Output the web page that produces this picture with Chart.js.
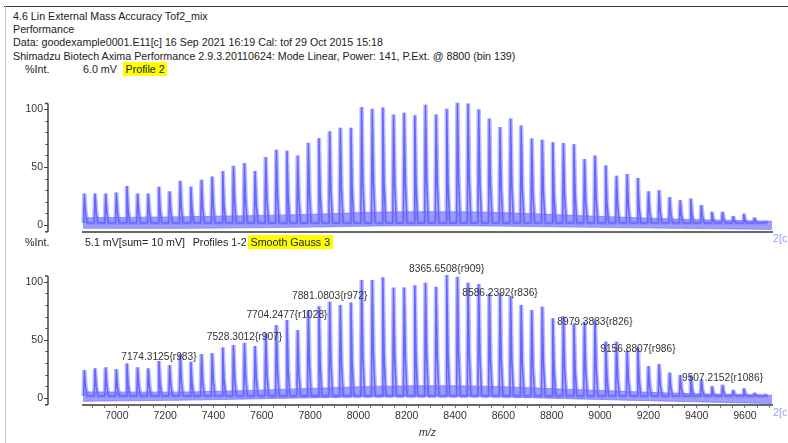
<!DOCTYPE html>
<html>
<head>
<meta charset="utf-8">
<script src="https://cdn.jsdelivr.net/npm/chart.js@4.4.1/dist/chart.umd.min.js"></script>
<style>
body { margin: 0; background: #fff; }
#page { position: relative; width: 788px; height: 443px; overflow: hidden; font-family: "Liberation Sans", Arial, sans-serif; font-size: 10.7px; color: #222; }
.t { position: absolute; white-space: pre; line-height: 13px; }
.hl { background: #ffff00; padding: 1px 2.5px; }
.ch { position: absolute; left: 0; }
.side { color: #9a9aff; }
</style>
</head>
<body>
<div id="page">
  <div style="position:absolute;left:4px;top:6px;width:784px;height:1px;background:#333"></div>
  <div style="position:absolute;left:5px;top:6px;width:1px;height:437px;background:#c4c4c4"></div>

  <div class="t" style="left:13px;top:9.5px">4.6 Lin External Mass Accuracy Tof2_mix</div>
  <div class="t" style="left:13px;top:22.8px">Performance</div>
  <div class="t" style="left:13px;top:36.2px">Data: goodexample0001.E11[c] 16 Sep 2021 16:19 Cal: tof 29 Oct 2015 15:18</div>
  <div class="t" style="left:13px;top:49.5px">Shimadzu Biotech Axima Performance 2.9.3.20110624: Mode Linear, Power: 141, P.Ext. @ 8800 (bin 139)</div>
  <div class="t" style="left:25px;top:62.8px">%Int.</div>
  <div class="t" style="left:83px;top:62.8px">6.0 mV</div>
  <div class="t" style="left:123px;top:62.8px"><span class="hl">Profile 2</span></div>

  <canvas id="top" class="ch" style="top:95px" width="788" height="145"></canvas>

  <div class="t side" style="left:773px;top:231.5px">2[c</div>
  <div class="t" style="left:25px;top:235.8px">%Int.</div>
  <div class="t" style="left:85px;top:235.8px">5.1 mV[sum= 10 mV]</div>
  <div class="t" style="left:192.7px;top:235.8px">Profiles 1-2</div>
  <div class="t" style="left:248px;top:235.8px"><span class="hl">Smooth Gauss 3</span></div>

  <canvas id="bottom" class="ch" style="top:262px" width="788" height="181"></canvas>
  <div class="t side" style="left:773px;top:405.5px">2[c</div>
</div>

<script>
// peak list (m/z), ~44 Da apart
var peakMz = [
  6865.6, 6909.7, 6953.7, 6997.8, 7041.8, 7085.9, 7129.9, 7174.3125, 7218.4, 7262.4,
  7306.5, 7350.5, 7394.6, 7438.6, 7482.7, 7528.3012, 7572.3, 7616.3, 7660.3, 7704.2477,
  7748.5, 7792.6, 7836.8, 7881.0803, 7925.1, 7969.2, 8013.2, 8057.3, 8101.3, 8145.4,
  8189.4, 8233.5, 8277.5, 8321.6, 8365.6508, 8409.8, 8453.9, 8497.9, 8542.0, 8586.2392,
  8630.0, 8673.7, 8717.4, 8761.1, 8804.8, 8848.5, 8892.2, 8935.8, 8979.3833, 9023.8,
  9068.2, 9112.5, 9156.8807, 9200.7, 9244.5, 9288.3, 9332.1, 9375.9, 9419.6, 9463.4,
  9507.2152, 9551.2, 9595.3, 9639.3, 9683.4
];

// Profile 2 (top), %Int at each peak
var topApex = [
  27, 27, 27, 28, 33.6, 27, 27, 33, 29, 38,
  33, 39, 41.7, 46.5, 51, 53.5, 46.5, 58.6, 65, 64,
  60, 71, 75, 81, 84, 84, 102, 100.5, 101.5, 95.4,
  97, 94.8, 104, 95.4, 100.5, 105.7, 105, 100, 92, 84.7,
  92, 86, 74.7, 73.5, 71.5, 70.7, 69.8, 56.9, 60, 51.4,
  42.5, 44, 40.5, 29, 29.8, 24, 21.2, 22.7, 17, 11.2,
  11.2, 7.4, 9.5, 6, 2.6
];

// Profiles 1-2 Smooth Gauss 3 (bottom), %Int at each peak
var bottomApex = [
  23.9, 25.3, 26.2, 24.7, 29.6, 26.2, 25.3, 31.6, 28.2, 37.7,
  31, 37.7, 38.3, 43.4, 45.4, 47.4, 44.6, 55.5, 62.7, 67,
  58.4, 75.6, 78.8, 82.8, 80, 82, 101.5, 101.5, 103.8, 95,
  95, 97, 99, 95.7, 105.8, 104.3, 99, 98, 90, 90.5,
  87.7, 80, 75.6, 78.5, 68.4, 70.4, 64, 65.5, 67.6, 48.3,
  48.3, 40.5, 43.4, 27.3, 29, 21.6, 19.6, 19.6, 15.8, 10,
  11, 6.6, 8, 3.8, 2.3
];

// baseline noise band (low / high edge, %Int)
var noiseMz = [6860, 7300, 7800, 8100, 8500, 8900, 9300, 9712];
var topNoiseLow = [-3, -3, -2, -1, -1, -2, -3, -4];
var topNoiseHigh = [6, 7, 9, 11, 11, 8, 5, 3];
var bottomNoiseLow = [-3, -2, 0, 1, 1, -1, -3, -5];
var bottomNoiseHigh = [5, 5, 8, 10, 10, 7, 4, 2];

// annotated peaks in the bottom trace
var labelMz = [7174.3125, 7528.3012, 7704.2477, 7881.0803, 8365.6508, 8586.2392, 8979.3833, 9156.8807, 9507.2152];
var labelRes = [983, 907, 1028, 972, 909, 836, 826, 986, 1086];
var labelLevel = [35.3, 52.6, 71.3, 87.7, 111, 90, 64.7, 41.7, 16.7];

var xTickLabels = [7000, 7200, 7400, 7600, 7800, 8000, 8200, 8400, 8600, 8800, 9000, 9200, 9400, 9600];
var yTickLabels = [0, 50, 100];

var X_MIN = 6860, X_MAX = 9712;
var TRACE = 'rgb(104,104,255)';
var FONT = '"Liberation Sans", Arial, sans-serif';

function spectrum(apex, floor, shoulder) {
  var pts = [];
  peakMz.forEach(function(m, i) {
    pts.push({x: m - 3, y: floor});
    pts.push({x: m, y: apex[i]});
    pts.push({x: m + 5, y: floor + (apex[i] - floor) * shoulder});
    pts.push({x: m + 12, y: floor});
  });
  return pts;
}

function band(vals) {
  return noiseMz.map(function(m, i) { return {x: m, y: vals[i]}; });
}

var yBracket = {
  id: 'yBracket',
  afterDraw: function(chart) {
    var ctx = chart.ctx, y = chart.scales.y;
    var ax = chart.chartArea.left - 35;
    ctx.save();
    ctx.strokeStyle = '#444';
    ctx.lineWidth = 1.5;
    ctx.beginPath();
    ctx.moveTo(ax, y.top);
    ctx.lineTo(ax, y.bottom);
    ctx.moveTo(ax - 3, y.top);
    ctx.lineTo(ax, y.top);
    ctx.moveTo(ax - 3, y.bottom);
    ctx.lineTo(ax, y.bottom);
    ctx.stroke();
    ctx.lineWidth = 1;
    ctx.beginPath();
    y.ticks.forEach(function(t) {
      var py = Math.round(y.getPixelForValue(t.value)) + 0.5;
      var len = yTickLabels.indexOf(t.value) >= 0 ? 4 : 2.5;
      ctx.moveTo(ax - len, py);
      ctx.lineTo(ax, py);
    });
    ctx.stroke();
    ctx.restore();
  }
};

var peakLabels = {
  id: 'peakLabels',
  afterDatasetsDraw: function(chart) {
    var ctx = chart.ctx, xs = chart.scales.x, ys = chart.scales.y;
    ctx.save();
    ctx.font = '10.2px ' + FONT;
    ctx.fillStyle = '#333';
    ctx.textAlign = 'center';
    ctx.textBaseline = 'middle';
    labelMz.forEach(function(m, i) {
      ctx.fillText(m.toFixed(4) + '{r' + labelRes[i] + '}', xs.getPixelForValue(m), ys.getPixelForValue(labelLevel[i]));
    });
    ctx.restore();
  }
};

function makeChart(id, apex, low, high, areaTop, xHeight, showTicks, extra) {
  var ctx = document.getElementById(id).getContext('2d');
  var plugins = [yBracket];
  if (extra) plugins.push(extra);
  return new Chart(ctx, {
    type: 'line',
    data: {
      datasets: [
        {data: spectrum(apex, 1.5, 0.35), borderColor: TRACE, borderWidth: 1.6, borderJoinStyle: 'bevel', pointRadius: 0, tension: 0, order: 0, clip: false},
        {data: spectrum(apex, 1.5, 0.35), borderColor: 'rgba(125,125,255,0.5)', borderWidth: 4.5, borderJoinStyle: 'bevel', pointRadius: 0, tension: 0, order: 1, clip: false},
        {data: band(high), borderColor: 'rgba(112,112,255,0.7)', borderWidth: 1, backgroundColor: 'rgba(112,112,255,0.68)', fill: '+1', pointRadius: 0, tension: 0.3, order: 2},
        {data: band(low), borderColor: 'rgba(112,112,255,0.7)', borderWidth: 1, pointRadius: 0, tension: 0.3, order: 3}
      ]
    },
    options: {
      responsive: false,
      animation: false,
      parsing: false,
      layout: {padding: {left: 0, right: 16, top: areaTop, bottom: 0}},
      plugins: {legend: {display: false}, tooltip: {enabled: false}},
      scales: {
        x: {
          type: 'linear',
          min: X_MIN,
          max: X_MAX,
          afterBuildTicks: function(s) {
            var t = [];
            for (var v = 6900; v <= 9700; v += 50) t.push({value: v});
            s.ticks = t;
          },
          afterFit: function(s) { s.height = xHeight; },
          ticks: {
            display: showTicks,
            autoSkip: false,
            maxRotation: 0,
            padding: 2,
            color: '#333',
            font: {family: FONT, size: 10.5},
            callback: function(v) { return xTickLabels.indexOf(v) >= 0 ? String(v) : ''; }
          },
          grid: {display: showTicks, drawOnChartArea: false, drawTicks: showTicks, tickLength: 3, tickColor: '#555'},
          border: {display: true, color: '#6a6a6a', width: 2},
          title: {
            display: showTicks,
            text: 'm/z',
            color: '#333',
            padding: {top: 0, bottom: 4},
            font: {family: FONT, size: 10.5, style: 'italic'}
          }
        },
        y: {
          min: -6,
          max: 105,
          afterBuildTicks: function(s) {
            var t = [];
            for (var v = 0; v <= 100; v += 10) t.push({value: v});
            s.ticks = t;
          },
          afterFit: function(s) { s.width = 83; },
          ticks: {
            autoSkip: false,
            padding: 2,
            color: '#333',
            font: {family: FONT, size: 10.5},
            callback: function(v) { return yTickLabels.indexOf(v) >= 0 ? String(v) : ''; }
          },
          // the tick length only pushes the labels out to the left; the axis is drawn by yBracket
          grid: {display: false, drawTicks: true, tickLength: 38},
          border: {display: false}
        }
      }
    },
    plugins: plugins
  });
}

makeChart('top', topApex, topNoiseLow, topNoiseHigh, 8.5, 7.7, false, null);
makeChart('bottom', bottomApex, bottomNoiseLow, bottomNoiseHigh, 13.9, 38.3, true, peakLabels);
</script>
</body>
</html>
